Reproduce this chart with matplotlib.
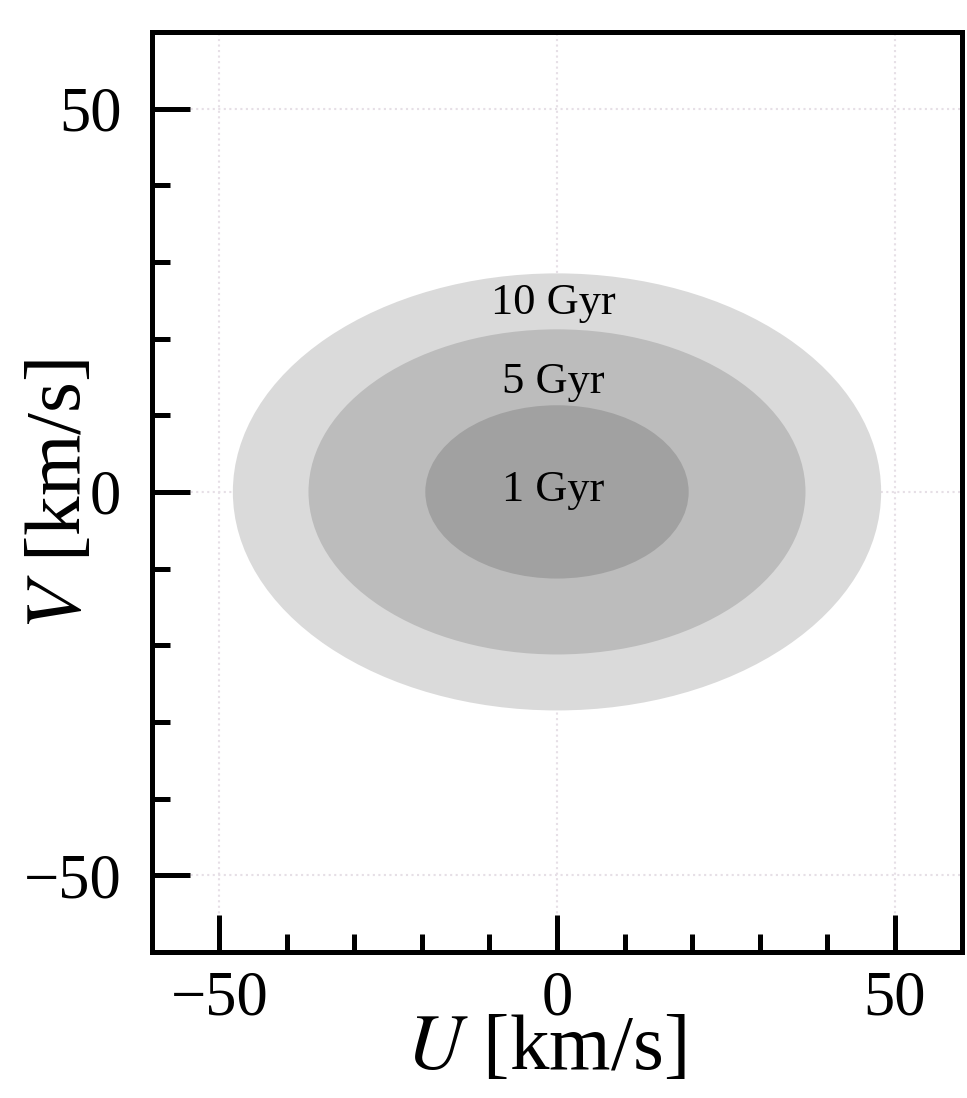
#elipses de velocidade (U, V) por idade
import matplotlib
matplotlib.use("Agg")
import matplotlib.pyplot as plt
from matplotlib.patches import Ellipse
from matplotlib.ticker import MultipleLocator

plt.rcParams['font.family'] = 'serif'
plt.rcParams['font.serif'] = ['Liberation Serif', 'DejaVu Serif']
plt.rcParams['mathtext.fontset'] = 'stix'

# dados
idades = ["10 Gyr", "5 Gyr", "1 Gyr"]
sigma_u = [48.0, 36.8, 19.5]   # semi-eixo em U [km/s]
sigma_v = [28.5, 21.2, 11.3]   # semi-eixo em V [km/s]
cores = ["#dadada", "#bcbcbc", "#a1a1a1"]
texto_y = [24.6, 14.3, 0.2]

fig = plt.figure(figsize=(9.67, 10.98), dpi=100)
ax = fig.add_axes([0.157, 0.133, 0.838, 0.838])

for su, sv, c in zip(sigma_u, sigma_v, cores):
    ax.add_patch(Ellipse((0, 0), 2 * su, 2 * sv, facecolor=c, edgecolor='none', zorder=2))

for nome, ty in zip(idades, texto_y):
    ax.text(-0.6, ty, nome, ha='center', va='center', fontsize=32, zorder=3)

ax.set_xlim(-60, 60)
ax.set_ylim(-60, 60)

ax.xaxis.set_major_locator(MultipleLocator(50))
ax.yaxis.set_major_locator(MultipleLocator(50))
ax.xaxis.set_minor_locator(MultipleLocator(10))
ax.yaxis.set_minor_locator(MultipleLocator(10))

ax.grid(True, which='major', linestyle=':', color='#e6dfe6', linewidth=1.5, zorder=0)
ax.set_axisbelow(True)

ax.tick_params(which='both', direction='in', top=False, right=False, labelsize=45)
ax.tick_params(which='major', length=27, width=3.6)
ax.tick_params(which='minor', length=13, width=3.6)
ax.tick_params(axis='y', which='major', pad=22)
ax.tick_params(axis='x', which='major', pad=13)

for s in ax.spines.values():
    s.set_linewidth(3.6)

ax.set_xlabel(r"$U$ [km/s]", fontsize=57)
ax.set_ylabel(r"$V$ [km/s]", fontsize=57)
ax.xaxis.set_label_coords(0.486, -0.068)
ax.yaxis.set_label_coords(-0.068, 0.497)

fig.savefig("out.png", dpi=100)
